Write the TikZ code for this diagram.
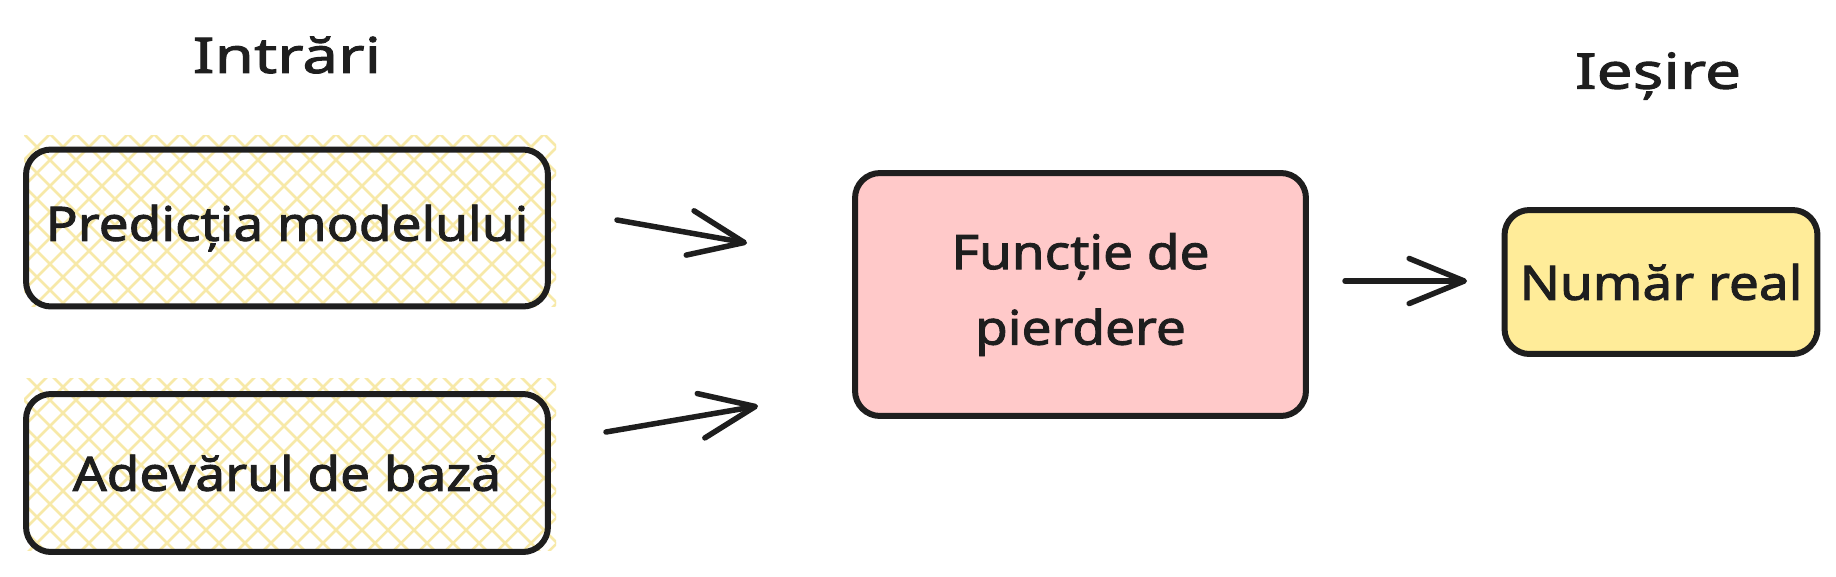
\documentclass[tikz,border=0pt]{standalone}
\usepackage{fontspec}
\setmainfont{Noto Sans}
\newfontfamily\boxfont[FakeStretch=1.12,FakeBold=2]{Noto Sans}
\newfontfamily\titlefont[FakeStretch=1.3,FakeBold=2]{Noto Sans}
\usetikzlibrary{arrows.meta}
\definecolor{ink}{HTML}{1E1E1E}
\definecolor{pinkfill}{HTML}{FFC9C9}
\definecolor{yelfill}{HTML}{FFEC99}
\definecolor{hatchc}{RGB}{247,233,168}
\tikzset{
  boxstyle/.style={draw=ink, line width=0.12cm, rounded corners=0.5cm, inner sep=0pt,
    font=\boxfont\fontsize{27}{45}\selectfont, text=ink, align=center},
  titlestyle/.style={font=\titlefont\fontsize{28}{32}\selectfont, text=ink, inner sep=0pt},
  conn/.style={draw=ink, line width=0.11cm, line cap=round, line join=round,
    -{Straight Barb[length=1.1cm, width=0.9cm, line cap=round, line join=round]}},
  hatchline/.style={draw=hatchc, line width=0.05cm}
}
\begin{document}
\begin{tikzpicture}[x=0.02cm, y=-0.02cm]
\useasboundingbox[fill=white] (0,0) rectangle (1836,576);
% hatching behind the two input boxes
\begin{scope}
  \clip (24,135) rectangle (556,306);
  \foreach \i in {-400,-374,...,700} {
    \draw[hatchline] (\i,100) -- ++(250,250);
    \draw[hatchline] (\i,350) -- ++(250,-250);
  }
\end{scope}
\begin{scope}
  \clip (24,378) rectangle (556,550);
  \foreach \i in {-400,-374,...,700} {
    \draw[hatchline] (\i,340) -- ++(250,250);
    \draw[hatchline] (\i,590) -- ++(250,-250);
  }
\end{scope}
% titles
\node[titlestyle] (tin) at (287,55) {Intrări};
\node[titlestyle] (tout) at (1658,76) {Ieșire};
% boxes
\node[boxstyle, minimum width=10.44cm, minimum height=3.14cm] (pred) at (287,228) {Predicția modelului};
\node[boxstyle, minimum width=10.44cm, minimum height=3.16cm] (adev) at (287,473) {Adevărul de bază};
\node[boxstyle, fill=pinkfill, minimum width=9.02cm, minimum height=4.86cm] (loss) at (1080.5,294.5) {\raisebox{-2pt}{Funcție de}\\pierdere};
\node[boxstyle, fill=yelfill, minimum width=6.26cm, minimum height=2.88cm] (num) at (1661,282) {Număr real};
% connector end points
\coordinate (a1s) at (617,220);
\coordinate (a1e) at (747,243);
\coordinate (a2s) at (606,432);
\coordinate (a2e) at (758,406);
\coordinate (a3s) at (1345,281);
\coordinate (a3e) at (1467,281);
\draw[conn] (a1s) -- (a1e);
\draw[conn] (a2s) -- (a2e);
\draw[conn] (a3s) -- (a3e);
\end{tikzpicture}
\end{document}
